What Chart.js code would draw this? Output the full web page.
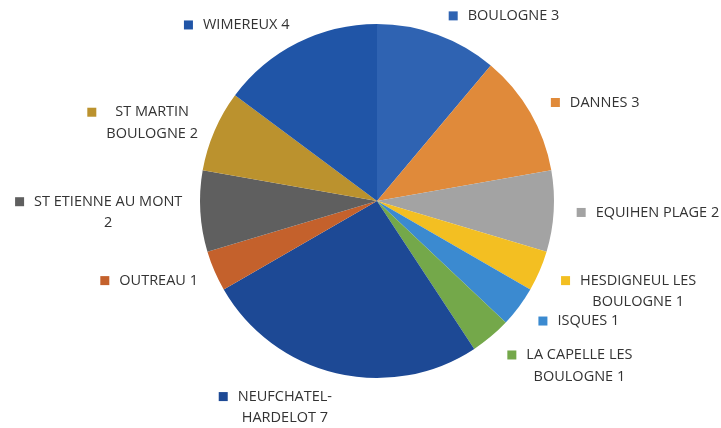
<!DOCTYPE html>
<html>
<head>
<meta charset="utf-8">
<script src="https://cdn.jsdelivr.net/npm/chart.js@4/dist/chart.umd.min.js"></script>
<style>
  html, body { margin: 0; padding: 0; background: #fff; }
  #wrap { width: 721px; height: 428px; }
</style>
</head>
<body>
<div id="wrap"><canvas id="myChart" width="721" height="428"></canvas></div>
<script>
// Communes (each entry = lines of the wrapped label, the value goes after the last line)
const communes = [
    ['BOULOGNE'],
    ['DANNES'],
    ['EQUIHEN PLAGE'],
    ['HESDIGNEUL LES', 'BOULOGNE'],
    ['ISQUES'],
    ['LA CAPELLE LES', 'BOULOGNE'],
    ['NEUFCHATEL-', 'HARDELOT'],
    ['OUTREAU'],
    ['ST ETIENNE AU MONT', ''],
    ['ST MARTIN', 'BOULOGNE'],
    ['WIMEREUX']
]
const counts = [3, 3, 2, 1, 1, 1, 7, 1, 2, 2, 4]
const sliceColors = [
    '#2f63b2', '#e08a3a', '#a3a3a3', '#f3bf22', '#3b8ad0', '#74a84a',
    '#1d4995', '#c4612c', '#5f5f5f', '#bb922e', '#2055a7'
]

const FONT = '14.5px "Open Sans", "Noto Sans", sans-serif'
const LINE_H = 21.5
const MARK = 9
const MARK_GAP = 10

// Draw outside labels with a small square marker, placed from each arc's angle
const outsideLabels = {
    id: 'outsideLabels',
    afterDraw(chart) {
        const ctx = chart.ctx
        const meta = chart.getDatasetMeta(0)
        ctx.save()
        ctx.font = FONT
        ctx.textBaseline = 'middle'
        ctx.textAlign = 'center'
        meta.data.forEach(function (arc, i) {
            const p = arc.getProps(['x', 'y', 'startAngle', 'endAngle', 'outerRadius'], true)
            const mid = (p.startAngle + p.endAngle) / 2
            const R = p.outerRadius + 18
            const ax = p.x + R * Math.cos(mid)
            const ay = p.y + R * Math.sin(mid)
            const s = Math.sin(mid)

            const lines = communes[i].slice()
            lines[lines.length - 1] = (lines[lines.length - 1] + ' ' + counts[i]).trim()
            let textW = 0
            lines.forEach(l => { textW = Math.max(textW, ctx.measureText(l).width) })
            const w = MARK + MARK_GAP + textW
            const h = lines.length * LINE_H

            const left = Math.cos(mid) >= 0 ? ax + 5 : ax - w
            // lower half: first line sits just below the anchor, otherwise the block is centred on it
            const top = s > 0.2
                ? ay + 6 * s - LINE_H / 2
                : ay + 2 * s - h / 2

            ctx.fillStyle = sliceColors[i]
            ctx.fillRect(left, top + LINE_H / 2 - MARK / 2, MARK, MARK)

            ctx.fillStyle = '#333333'
            const cx = left + MARK + MARK_GAP + textW / 2
            lines.forEach(function (l, k) {
                ctx.fillText(l, cx, top + LINE_H / 2 + k * LINE_H)
            })
        })
        ctx.restore()
    }
}

new Chart(document.getElementById('myChart'), {
    type: 'pie',
    data: {
        labels: communes.map(c => c.join(' ')),
        datasets: [{
            data: counts,
            backgroundColor: sliceColors,
            borderWidth: 0
        }]
    },
    options: {
        responsive: false,
        animation: false,
        layout: {
            padding: { left: 200, right: 167, top: 24, bottom: 50 }
        },
        plugins: {
            legend: { display: false },
            tooltip: { enabled: false }
        }
    },
    plugins: [outsideLabels]
});
</script>
</body>
</html>
